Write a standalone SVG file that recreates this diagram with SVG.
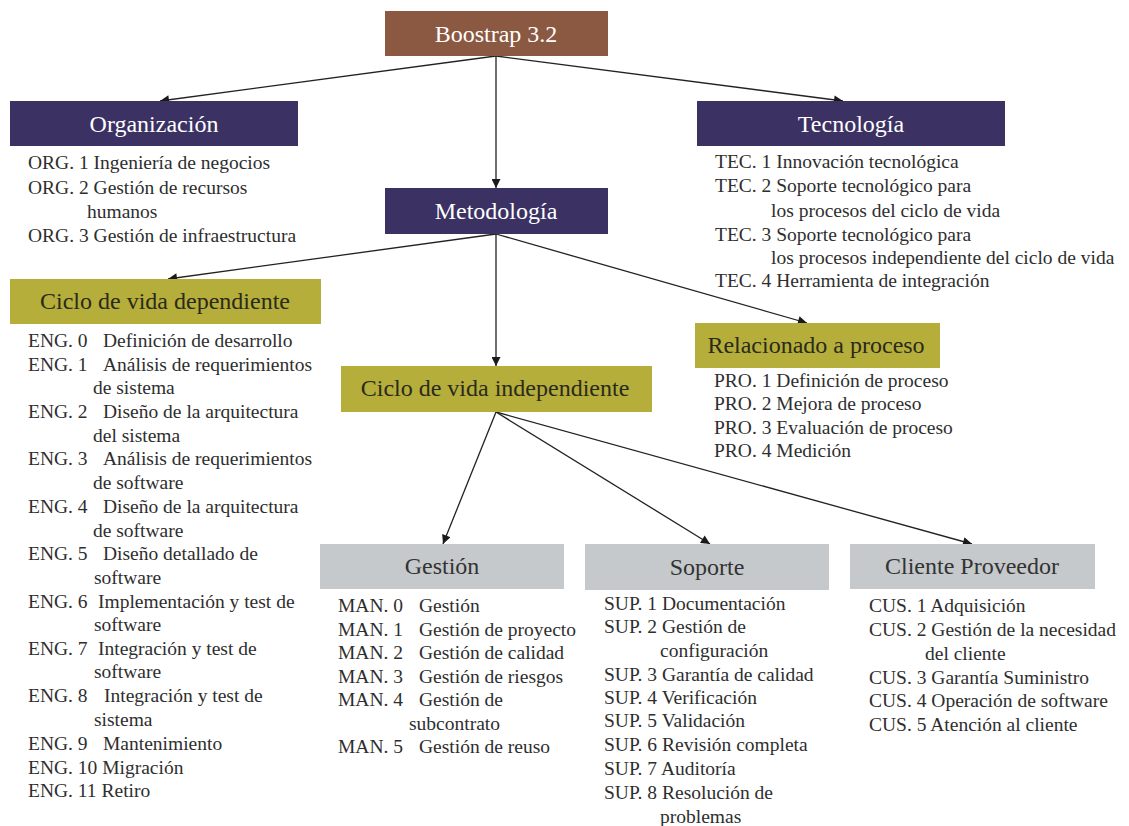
<svg xmlns="http://www.w3.org/2000/svg" width="1129" height="826" viewBox="0 0 1129 826">
<defs>
<marker id="ah" viewBox="0 0 10 10" refX="10" refY="5" markerWidth="11" markerHeight="9" markerUnits="userSpaceOnUse" orient="auto">
<path d="M0,0 L10,5 L0,10 z" fill="#1a1a1a"/>
</marker>
<style>
.hd{font-family:"Liberation Serif","Times New Roman",serif;font-size:24px;text-anchor:middle}
.w{fill:#ffffff}
.dk{fill:#2a2a1c}
.gy{fill:#333333}
.li{font-family:"Liberation Serif","Times New Roman",serif;font-size:19.5px;fill:#2e2e2e}
.brown{fill:#8b5841}
.ind{fill:#3b3163}
.olv{fill:#b6ae3a}
.gry{fill:#c5c9cb}
.cn{stroke:#222;stroke-width:1.3;fill:none;marker-end:url(#ah)}
</style>
</defs>
<rect width="1129" height="826" fill="#ffffff"/>

<g id="connectors">
<line class="cn" x1="496" y1="56" x2="160" y2="101"/>
<line class="cn" x1="496" y1="56" x2="496" y2="188"/>
<line class="cn" x1="496" y1="56" x2="843" y2="101"/>
<line class="cn" x1="496" y1="234" x2="168" y2="279"/>
<line class="cn" x1="496" y1="234" x2="496" y2="366"/>
<line class="cn" x1="496" y1="234" x2="807" y2="323"/>
<line class="cn" x1="496" y1="412" x2="443" y2="544"/>
<line class="cn" x1="496" y1="412" x2="710" y2="544"/>
<line class="cn" x1="496" y1="412" x2="972" y2="544"/>
</g>

<g id="boostrap">
<rect class="brown" x="385" y="11" width="223" height="45"/>
<text class="hd w" x="496" y="42">Boostrap 3.2</text>
</g>

<g id="organizacion">
<rect class="ind" x="10" y="101" width="288" height="45"/>
<text class="hd w" x="154" y="132">Organización</text>
<text class="li" x="28" y="169">ORG. 1 Ingeniería de negocios</text>
<text class="li" x="28" y="194">ORG. 2 Gestión de recursos</text>
<text class="li" x="87" y="218">humanos</text>
<text class="li" x="28" y="242">ORG. 3 Gestión de infraestructura</text>
</g>

<g id="tecnologia">
<rect class="ind" x="697" y="101" width="308" height="45"/>
<text class="hd w" x="851" y="132">Tecnología</text>
<text class="li" x="715" y="168">TEC. 1 Innovación tecnológica</text>
<text class="li" x="715" y="192">TEC. 2 Soporte tecnológico para</text>
<text class="li" x="771" y="217">los procesos del ciclo de vida</text>
<text class="li" x="715" y="241">TEC. 3 Soporte tecnológico para</text>
<text class="li" x="771" y="264">los procesos independiente del ciclo de vida</text>
<text class="li" x="715" y="287">TEC. 4 Herramienta de integración</text>
</g>

<g id="metodologia">
<rect class="ind" x="385" y="188" width="223" height="46"/>
<text class="hd w" x="496" y="219">Metodología</text>
</g>

<g id="ciclo-dependiente">
<rect class="olv" x="10" y="279" width="311" height="45"/>
<text class="hd dk" x="165" y="309">Ciclo de vida dependiente</text>
<text class="li" x="28" y="347">ENG. 0</text><text class="li" x="103" y="347">Definición de desarrollo</text>
<text class="li" x="28" y="371">ENG. 1</text><text class="li" x="103" y="371">Análisis de requerimientos</text>
<text class="li" x="93" y="394">de sistema</text>
<text class="li" x="28" y="418">ENG. 2</text><text class="li" x="103" y="418">Diseño de la arquitectura</text>
<text class="li" x="93" y="442">del sistema</text>
<text class="li" x="28" y="465">ENG. 3</text><text class="li" x="103" y="465">Análisis de requerimientos</text>
<text class="li" x="93" y="489">de software</text>
<text class="li" x="28" y="513">ENG. 4</text><text class="li" x="103" y="513">Diseño de la arquitectura</text>
<text class="li" x="93" y="537">de software</text>
<text class="li" x="28" y="560">ENG. 5</text><text class="li" x="103" y="560">Diseño detallado de</text>
<text class="li" x="94" y="584">software</text>
<text class="li" x="28" y="608">ENG. 6</text><text class="li" x="98" y="608">Implementación y test de</text>
<text class="li" x="94" y="631">software</text>
<text class="li" x="28" y="655">ENG. 7</text><text class="li" x="98" y="655">Integración y test de</text>
<text class="li" x="94" y="678">software</text>
<text class="li" x="28" y="702">ENG. 8</text><text class="li" x="104" y="702">Integración y test de</text>
<text class="li" x="94" y="726">sistema</text>
<text class="li" x="28" y="750">ENG. 9</text><text class="li" x="103" y="750">Mantenimiento</text>
<text class="li" x="28" y="774">ENG. 10 Migración</text>
<text class="li" x="28" y="797">ENG. 11 Retiro</text>
</g>

<g id="ciclo-independiente">
<rect class="olv" x="341" y="366" width="311" height="46"/>
<text class="hd dk" x="495" y="396">Ciclo de vida independiente</text>
</g>

<g id="relacionado">
<rect class="olv" x="695" y="323" width="245" height="45"/>
<text class="hd dk" x="816" y="353">Relacionado a proceso</text>
<text class="li" x="714" y="387">PRO. 1 Definición de proceso</text>
<text class="li" x="714" y="410">PRO. 2 Mejora de proceso</text>
<text class="li" x="714" y="434">PRO. 3 Evaluación de proceso</text>
<text class="li" x="714" y="457">PRO. 4 Medición</text>
</g>

<g id="gestion">
<rect class="gry" x="320" y="544" width="244" height="45"/>
<text class="hd gy" x="442" y="574">Gestión</text>
<text class="li" x="338" y="612">MAN. 0</text><text class="li" x="419" y="612">Gestión</text>
<text class="li" x="338" y="636">MAN. 1</text><text class="li" x="419" y="636">Gestión de proyecto</text>
<text class="li" x="338" y="659">MAN. 2</text><text class="li" x="419" y="659">Gestión de calidad</text>
<text class="li" x="338" y="683">MAN. 3</text><text class="li" x="419" y="683">Gestión de riesgos</text>
<text class="li" x="338" y="706">MAN. 4</text><text class="li" x="419" y="706">Gestión de</text>
<text class="li" x="409" y="730">subcontrato</text>
<text class="li" x="338" y="753">MAN. 5</text><text class="li" x="419" y="753">Gestión de reuso</text>
</g>

<g id="soporte">
<rect class="gry" x="585" y="544" width="244" height="46"/>
<text class="hd gy" x="707" y="575">Soporte</text>
<text class="li" x="604" y="610">SUP. 1 Documentación</text>
<text class="li" x="604" y="633">SUP. 2 Gestión de</text>
<text class="li" x="660" y="657">configuración</text>
<text class="li" x="604" y="681">SUP. 3 Garantía de calidad</text>
<text class="li" x="604" y="704">SUP. 4 Verificación</text>
<text class="li" x="604" y="727">SUP. 5 Validación</text>
<text class="li" x="604" y="751">SUP. 6 Revisión completa</text>
<text class="li" x="604" y="775">SUP. 7 Auditoría</text>
<text class="li" x="604" y="799">SUP. 8 Resolución de</text>
<text class="li" x="660" y="823">problemas</text>
</g>

<g id="cliente-proveedor">
<rect class="gry" x="850" y="544" width="245" height="45"/>
<text class="hd gy" x="972" y="574">Cliente Proveedor</text>
<text class="li" x="869" y="612">CUS. 1 Adquisición</text>
<text class="li" x="869" y="636">CUS. 2 Gestión de la necesidad</text>
<text class="li" x="925" y="660">del cliente</text>
<text class="li" x="869" y="684">CUS. 3 Garantía Suministro</text>
<text class="li" x="869" y="707">CUS. 4 Operación de software</text>
<text class="li" x="869" y="731">CUS. 5 Atención al cliente</text>
</g>
</svg>
